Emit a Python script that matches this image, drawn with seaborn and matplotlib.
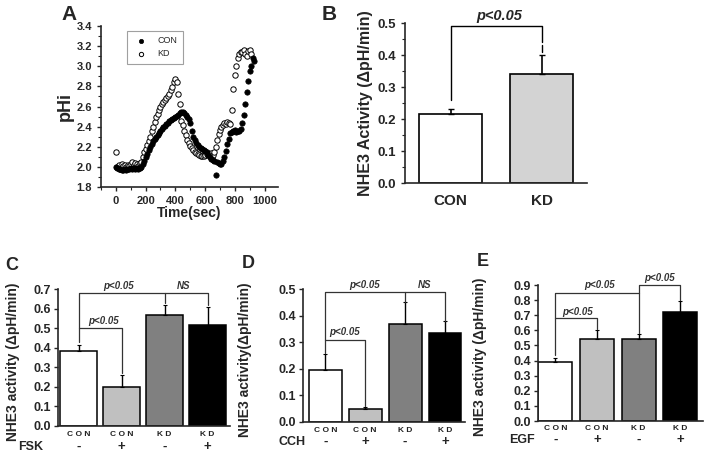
import numpy as np
import pandas as pd
import matplotlib
matplotlib.use("Agg")
import matplotlib.pyplot as plt
import matplotlib.transforms as mtransforms
from matplotlib.ticker import MultipleLocator
import seaborn as sns

sns.set_style("ticks")
plt.rcParams['font.family'] = ['Liberation Sans', 'DejaVu Sans']
plt.rcParams['font.weight'] = 'bold'

# ---------------- Panel A data ----------------
time_con = list(range(0, 940, 10))
phi_con = [2.00, 1.99, 1.98, 1.98, 1.97, 1.97, 1.98, 1.97, 1.98, 1.98,
           1.99, 1.98, 1.99, 1.98, 1.99, 1.98, 1.99, 2.00, 2.03, 2.06,
           2.10, 2.13, 2.17, 2.20, 2.23, 2.26, 2.28, 2.30, 2.32, 2.34,
           2.36, 2.38, 2.40, 2.41, 2.43, 2.44, 2.46, 2.47, 2.48, 2.49,
           2.50, 2.51, 2.52, 2.54, 2.55, 2.55, 2.54, 2.52, 2.50, 2.48,
           2.44, 2.36, 2.30, 2.27, 2.24, 2.22, 2.20, 2.19, 2.18, 2.17,
           2.16, 2.15, 2.12, 2.10, 2.08, 2.07, 2.06, 1.92, 2.05, 2.04,
           2.03, 2.03, 2.06, 2.10, 2.16, 2.23, 2.28, 2.34, 2.35, 2.36,
           2.37, 2.35, 2.36, 2.36, 2.38, 2.44, 2.52, 2.62, 2.74, 2.85,
           2.95, 3.00, 3.08, 3.05]
time_kd = list(range(0, 920, 10))
phi_kd = [2.15, 2.00, 2.02, 1.98, 2.03, 2.01, 2.02, 2.00, 2.02, 2.01,
          2.03, 2.05, 2.02, 2.04, 2.03, 2.01, 2.04, 2.05, 2.10, 2.15,
          2.18, 2.22, 2.26, 2.30, 2.36, 2.40, 2.45, 2.50, 2.53, 2.57,
          2.60, 2.62, 2.64, 2.66, 2.68, 2.70, 2.72, 2.76, 2.79, 2.84,
          2.87, 2.84, 2.72, 2.62, 2.46, 2.42, 2.36, 2.32, 2.27, 2.24,
          2.21, 2.19, 2.17, 2.15, 2.14, 2.13, 2.12, 2.11, 2.11, 2.11,
          2.12, 2.13, 2.12, 2.13, 2.14, 2.12, 2.15, 2.20, 2.27, 2.33,
          2.37, 2.40, 2.42, 2.44, 2.43, 2.45, 2.44, 2.43, 2.57, 2.77,
          2.91, 3.00, 3.08, 3.12, 3.14, 3.14, 3.16, 3.12, 3.10, 3.15,
          3.16, 3.12]

# ---------------- Panel B data ----------------
b_groups = ["CON", "KD"]
b_values = [0.215, 0.340]
b_errors = [0.017, 0.060]
b_colors = ["white", "#d3d3d3"]

# ---------------- Panels C, D, E data ----------------
bar_groups = ["CON", "CON", "KD", "KD"]
bar_treat = ["-", "+", "-", "+"]
bar_colors = ["white", "#c0c0c0", "#808080", "black"]

c_values = [0.385, 0.200, 0.565, 0.515]
c_errors = [0.030, 0.060, 0.055, 0.095]
d_values = [0.195, 0.047, 0.370, 0.335]
d_errors = [0.060, 0.008, 0.080, 0.045]
e_values = [0.390, 0.540, 0.540, 0.720]
e_errors = [0.030, 0.060, 0.035, 0.075]

W, H = 706, 454
fig = plt.figure(figsize=(W / 100, H / 100), dpi=100)


def add_ax(l, t, r, b):
    return fig.add_axes([l / W, 1 - b / H, (r - l) / W, (b - t) / H])


def style(ax):
    sns.despine(ax=ax)
    for s in ("left", "bottom"):
        ax.spines[s].set_linewidth(1.2)
    ax.tick_params(axis="both", direction="out", width=1.0, length=3)
    ax.tick_params(axis="both", which="minor", direction="out", width=0.8, length=2)


# ---------------- Panel A ----------------
axA = add_ax(101, 26, 278, 187)
sns.scatterplot(x=time_con, y=phi_con, ax=axA, color="black", s=15,
                edgecolor="black", linewidth=0.5, label="CON", zorder=3)
sns.scatterplot(x=time_kd, y=phi_kd, ax=axA, facecolor="white", s=15,
                edgecolor="black", linewidth=0.7, label="KD", zorder=2)
axA.set_xlim(-100, 1090)
axA.set_ylim(1.8, 3.4)
axA.set_xticks(range(0, 1001, 200))
axA.set_yticks(np.arange(1.8, 3.41, 0.2))
axA.set_yticklabels([f"{v:.1f}" for v in np.arange(1.8, 3.41, 0.2)])
axA.xaxis.set_minor_locator(MultipleLocator(100))
axA.yaxis.set_minor_locator(MultipleLocator(0.1))
style(axA)
axA.tick_params(labelsize=8)
axA.set_xlabel("Time(sec)", fontsize=10, fontweight="bold", labelpad=0)
axA.set_ylabel("pHi", fontsize=13, fontweight="bold", labelpad=2)
leg = axA.legend(loc="upper left", bbox_to_anchor=(0.12, 1.0), fontsize=6.5,
                 frameon=True, fancybox=False, edgecolor="#888888",
                 handletextpad=0.8, borderpad=0.6, labelspacing=0.5,
                 markerscale=0.8)
for t in leg.get_texts():
    t.set_fontweight("normal")
leg.get_frame().set_linewidth(0.8)
fig.text(61 / W, 1 - 15 / H, "A", fontsize=15, fontweight="bold", va="center")

# ---------------- Panel B ----------------
axB = add_ax(405, 23, 587, 183)
dfB = pd.DataFrame({"group": b_groups, "value": b_values})
sns.barplot(data=dfB, x="group", y="value", hue="group", palette=b_colors,
            edgecolor="black", linewidth=1.2, width=0.7, ax=axB, legend=False)
axB.errorbar(range(len(b_values)), b_values,
             yerr=[np.zeros(len(b_errors)), b_errors], fmt="none",
             ecolor="black", elinewidth=1.2, capsize=2, capthick=1.0)
axB.set_xlim(-0.5, 1.5)
axB.set_ylim(0, 0.5)
axB.set_yticks(np.arange(0, 0.51, 0.1))
axB.set_yticklabels([f"{v:.1f}" for v in np.arange(0, 0.51, 0.1)])
axB.yaxis.set_minor_locator(MultipleLocator(0.05))
style(axB)
axB.tick_params(axis="x", length=0, labelsize=11, pad=8)
axB.tick_params(axis="y", labelsize=9.5)
axB.set_xlabel("")
axB.set_ylabel("NHE3 Activity (\u0394pH/min)", fontsize=11.5, fontweight="bold", labelpad=3)
axB.plot([0, 0, 1, 1], [0.26, 0.49, 0.49, 0.44], color="black", lw=1.0, clip_on=False)
axB.plot([1, 1], [0.41, 0.432], color="black", lw=1.0, clip_on=False)
axB.text(0.54, 0.50, "p<0.05", fontsize=10.5, fontweight="bold", style="italic",
         ha="center", va="bottom")
fig.text(322 / W, 1 - 15 / H, "B", fontsize=15, fontweight="bold", va="center")


# ---------------- Panels C, D, E ----------------
def bar_panel(rect, values, errors, ymax, width, xlim, treat_name, letter,
              letter_xy, ylabel, ylabel_x, brackets, texts, rows):
    ax = add_ax(*rect)
    df = pd.DataFrame({"pos": ["g0", "g1", "g2", "g3"], "value": values})
    sns.barplot(data=df, x="pos", y="value", hue="pos", palette=bar_colors,
                edgecolor="black", linewidth=1.1, width=width, ax=ax, legend=False)
    ax.errorbar(range(len(values)), values,
                yerr=[np.zeros(len(errors)), errors], fmt="none",
                ecolor="black", elinewidth=1.0, capsize=1.5, capthick=0.8)
    ax.set_xlim(*xlim)
    ax.set_ylim(0, ymax)
    ticks = np.arange(0, ymax + 1e-9, 0.1)
    ax.set_yticks(ticks)
    ax.set_yticklabels([f"{v:.1f}" for v in ticks])
    style(ax)
    ax.tick_params(axis="y", labelsize=9, pad=2)
    ax.set_xticks(range(4))
    ax.set_xticklabels([])
    ax.tick_params(axis="x", length=0)
    ax.set_xlabel("")
    ax.set_ylabel("")
    trans = mtransforms.blended_transform_factory(ax.transData, fig.transFigure)
    for i, (g, t) in enumerate(zip(bar_groups, bar_treat)):
        ax.text(i, 1 - rows[0] / H, " ".join(g), transform=trans, fontsize=6,
                fontweight="bold", ha="center", va="center", color="#222222")
        ax.text(i, 1 - rows[1] / H, t, transform=trans, fontsize=9.5,
                fontweight="bold", ha="center", va="center")
    fig.text(rows[2] / W, 1 - rows[1] / H, treat_name, fontsize=9,
             fontweight="bold", ha="center", va="center")
    for xs, ys in brackets:
        ax.plot(xs, ys, color="#333333", lw=0.9, clip_on=False)
    for x, y, s in texts:
        ax.text(x, y, s, fontsize=7, fontweight="bold", style="italic",
                ha="center", va="bottom", color="#333333")
    fig.text(ylabel_x / W, 1 - (rect[1] + rect[3] + 8) / 2 / H, ylabel, rotation=90,
             fontsize=10, fontweight="bold", ha="center", va="center")
    fig.text(letter_xy[0] / W, 1 - letter_xy[1] / H, letter, fontsize=13,
             fontweight="bold", va="center")
    return ax


bar_panel((58, 289, 230, 426), c_values, c_errors, 0.7, 0.86, (-0.48, 3.52),
          "FSK", "C", (5, 265), "NHE3 activity (\u0394pH/min)", 13,
          brackets=[([0, 0, 1, 1], [0.43, 0.50, 0.50, 0.27]),
                    ([0, 0, 2, 2], [0.50, 0.68, 0.68, 0.63]),
                    ([2, 3, 3], [0.68, 0.68, 0.62])],
          texts=[(0.57, 0.51, "p<0.05"), (0.92, 0.69, "p<0.05"), (2.45, 0.69, "NS")],
          rows=(435, 447, 31))

bar_panel((303, 289, 465, 422), d_values, d_errors, 0.5, 0.82, (-0.56, 3.5),
          "CCH", "D", (242, 264), "NHE3 activity(\u0394pH/min)", 245,
          brackets=[([0, 0, 1, 1], [0.26, 0.31, 0.31, 0.06]),
                    ([0, 0, 2, 2], [0.31, 0.49, 0.49, 0.45]),
                    ([2, 3, 3], [0.49, 0.49, 0.38])],
          texts=[(0.49, 0.318, "p<0.05"), (0.99, 0.498, "p<0.05"), (2.49, 0.498, "NS")],
          rows=(430, 442, 292))

bar_panel((538, 285, 703, 421), e_values, e_errors, 0.9, 0.82, (-0.42, 3.55),
          "EGF", "E", (477, 262), "NHE3 activity (\u0394pH/min)", 480,
          brackets=[([0, 0, 1, 1], [0.44, 0.68, 0.68, 0.61]),
                    ([0, 0, 2, 2], [0.68, 0.85, 0.85, 0.58]),
                    ([2, 2, 3, 3], [0.85, 0.90, 0.90, 0.80])],
          texts=[(0.54, 0.69, "p<0.05"), (1.07, 0.865, "p<0.05"), (2.5, 0.915, "p<0.05")],
          rows=(428, 440, 522))

fig.savefig("out.png", dpi=100)
